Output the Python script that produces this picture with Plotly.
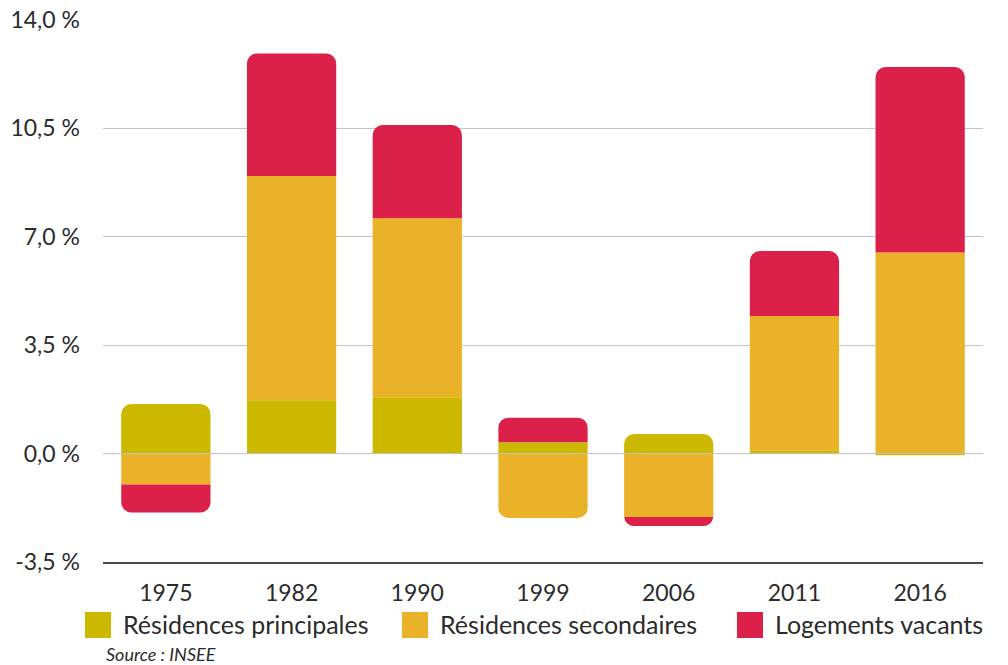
import plotly.graph_objects as go

# Contribution of each housing type to stock growth, by census year (%)
years = ["1975", "1982", "1990", "1999", "2006", "2011", "2016"]
principales = [1.6, 1.72, 1.82, 0.37, 0.63, 0.11, -0.05]
secondaires = [-1.0, 7.24, 5.78, -2.08, -2.05, 4.33, 6.49]
vacants = [-0.9, 3.96, 3.01, 0.79, -0.29, 2.10, 5.99]

series_names = ["Résidences principales", "Résidences secondaires", "Logements vacants"]
series_colors = ["#CDB800", "#EAB228", "#DB2049"]

y_tick_values = [-3.5, 0, 3.5, 7, 10.5, 14]
y_tick_labels = ["-3,5 %", "0,0 %", "3,5 %", "7,0 %", "10,5 %", "14,0 %"]
source_text = "Source : INSEE"

W, H = 1008, 665
ML, MR, MT, MB = 103, 25, 20, 103
FONT = "Lato"
TEXT_COLOR = "#2b2b2b"

fig = go.Figure()
for name, vals, col in zip(series_names, [principales, secondaires, vacants], series_colors):
    fig.add_trace(go.Bar(
        x=years, y=vals, name=name, marker_color=col,
        marker_line_width=0, showlegend=False,
    ))

# pixel -> paper helpers for the hand-drawn legend
pw, ph = W - ML - MR, H - MT - MB
def px_x(p):
    return (p - ML) / pw
def px_y(p):
    return (H - MB - p) / ph

shapes = []
annotations = []
swatch_left = [85, 402, 737]
legend_mid = 625
sw = 26
for name, col, x0 in zip(series_names, series_colors, swatch_left):
    shapes.append(dict(
        type="rect", xref="paper", yref="paper",
        x0=px_x(x0), x1=px_x(x0 + sw),
        y0=px_y(legend_mid + sw / 2), y1=px_y(legend_mid - sw / 2),
        fillcolor=col, line_width=0, layer="above",
    ))
    annotations.append(dict(
        text=name, xref="paper", yref="paper",
        x=px_x(x0 + sw + 10), y=px_y(legend_mid - 1),
        xanchor="left", yanchor="middle", showarrow=False,
        font=dict(family=FONT, size=25, color=TEXT_COLOR),
    ))

annotations.append(dict(
    text="<i>" + source_text + "</i>", xref="paper", yref="paper",
    x=px_x(104), y=px_y(654), xanchor="left", yanchor="middle",
    showarrow=False, font=dict(family=FONT, size=18, color=TEXT_COLOR),
))

# zero line drawn over the bars
shapes.append(dict(
    type="line", xref="paper", yref="y", x0=0, x1=1, y0=0, y1=0,
    line=dict(color="#c4c4c4", width=1), layer="above",
))

fig.update_layout(
    width=W, height=H, autosize=False,
    margin=dict(l=ML, r=MR, t=MT, b=MB, pad=0),
    paper_bgcolor="white", plot_bgcolor="white",
    barmode="relative", bargap=0.29, barcornerradius=10,
    font=dict(family=FONT, size=22, color=TEXT_COLOR),
    shapes=shapes, annotations=annotations,
    xaxis=dict(
        automargin=False,
        showline=True, linecolor="#4a4a4a", linewidth=2,
        showgrid=False, ticks="", ticklabelstandoff=9,
        tickfont=dict(family=FONT, size=23, color=TEXT_COLOR),
    ),
    yaxis=dict(
        automargin=False,
        range=[-3.5, 14], tickmode="array",
        tickvals=y_tick_values, ticktext=y_tick_labels,
        showgrid=True, gridcolor="#c4c4c4", gridwidth=1,
        zeroline=False, showline=False, ticks="",
        ticklabelstandoff=22,
        tickfont=dict(family=FONT, size=23, color=TEXT_COLOR),
    ),
)

fig.write_html("out.html")
